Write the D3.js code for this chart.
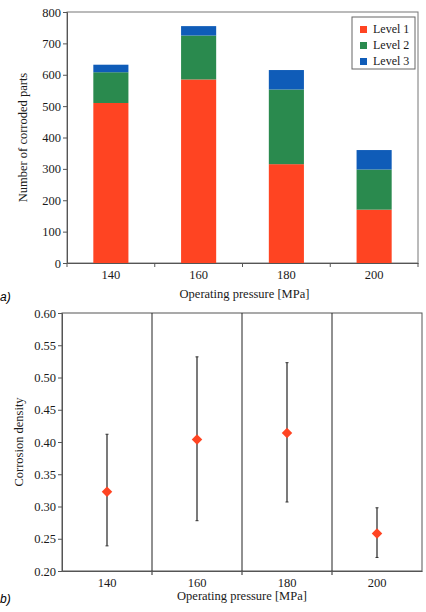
<!DOCTYPE html>
<html>
<head>
<meta charset="utf-8">
<script src="https://cdn.jsdelivr.net/npm/d3@7"></script>
<style>
  body { margin: 0; background: #fff; }
  .axis path, .axis line { stroke: #555; }
</style>
</head>
<body>
<div id="chart"></div>
<script>
// top chart: corroded parts per level
var pressures = ["140", "160", "180", "200"];
var level1 = [510, 585, 315, 170];
var level2 = [98, 140, 238, 128];
var level3 = [24, 30, 62, 62];
var levelNames = ["Level 1", "Level 2", "Level 3"];
var levelColors = ["#ff4422", "#2a8a4e", "#0f5cb8"];
var countTicks = [0, 100, 200, 300, 400, 500, 600, 700, 800];

// bottom chart: corrosion density with error bars
var density = [0.323, 0.404, 0.414, 0.258];
var densityLow = [0.239, 0.278, 0.307, 0.221];
var densityHigh = [0.412, 0.532, 0.523, 0.298];
var densityTicks = [0.20, 0.25, 0.30, 0.35, 0.40, 0.45, 0.50, 0.55, 0.60];

var width = 426, height = 612;

var svg = d3.select("#chart").append("svg")
    .attr("width", width)
    .attr("height", height);

// ---- chart a ----
var a = { left: 67, right: 418, top: 12, bottom: 263 };

var xa = d3.scaleBand().domain(pressures).range([a.left, a.right]).padding(0);
var ya = d3.scaleLinear().domain([0, 800]).range([a.bottom, a.top]);

svg.append("rect")
  .attr("x", a.left).attr("y", a.top)
  .attr("width", a.right - a.left).attr("height", a.bottom - a.top)
  .attr("fill", "none").attr("stroke", "#777");

var stackData = pressures.map(function(p, i) {
  return { p: p, l1: level1[i], l2: level2[i], l3: level3[i] };
});
var series = d3.stack().keys(["l1", "l2", "l3"])(stackData);

var barW = xa.bandwidth() * 0.4;
svg.selectAll(".layer")
  .data(series)
  .enter().append("g")
  .attr("fill", function(d, i) { return levelColors[i]; })
  .selectAll("rect")
  .data(function(d) { return d; })
  .enter().append("rect")
  .attr("x", function(d) { return xa(d.data.p) + (xa.bandwidth() - barW) / 2; })
  .attr("width", barW)
  .attr("y", function(d) { return ya(d[1]); })
  .attr("height", function(d) { return ya(d[0]) - ya(d[1]); });

svg.append("g")
  .attr("class", "axis")
  .attr("transform", "translate(" + a.left + ",0)")
  .call(d3.axisLeft(ya).tickValues(countTicks).tickSize(4).tickPadding(2));

var xaxA = svg.append("g")
  .attr("class", "axis")
  .attr("transform", "translate(0," + a.bottom + ")")
  .call(d3.axisBottom(xa).tickSize(0).tickPadding(7));
xaxA.selectAll(".boundary")
  .data(pressures.concat(["end"]))
  .enter().append("line")
  .attr("x1", function(d, i) { return a.left + i * xa.step(); })
  .attr("x2", function(d, i) { return a.left + i * xa.step(); })
  .attr("y1", 0).attr("y2", 4)
  .attr("stroke", "#555");

svg.append("text")
  .attr("transform", "translate(27," + (a.top + a.bottom) / 2 + ") rotate(-90)")
  .attr("text-anchor", "middle")
  .attr("font-size", 12.5)
  .text("Number of corroded parts");

svg.append("text")
  .attr("x", (a.left + a.right) / 2 + 2).attr("y", 298)
  .attr("text-anchor", "middle")
  .attr("font-size", 12.5)
  .text("Operating pressure [MPa]");

// legend
var legend = svg.append("g").attr("transform", "translate(352,17)");
legend.append("rect")
  .attr("width", 63).attr("height", 52)
  .attr("fill", "#fff").attr("stroke", "#666");
var item = legend.selectAll(".item")
  .data(levelNames)
  .enter().append("g")
  .attr("transform", function(d, i) { return "translate(8," + (9 + i * 16) + ")"; });
item.append("rect")
  .attr("width", 7).attr("height", 7)
  .attr("fill", function(d, i) { return levelColors[i]; });
item.append("text")
  .attr("x", 13).attr("y", 7)
  .attr("font-size", 12)
  .text(function(d) { return d; });

// ---- chart b ----
var b = { left: 62, right: 422, top: 313, bottom: 571 };

var xb = d3.scaleBand().domain(pressures).range([b.left, b.right]).padding(0);
var yb = d3.scaleLinear().domain([0.2, 0.6]).range([b.bottom, b.top]);

svg.append("rect")
  .attr("x", b.left).attr("y", b.top)
  .attr("width", b.right - b.left).attr("height", b.bottom - b.top)
  .attr("fill", "none").attr("stroke", "#555");

svg.selectAll(".sep")
  .data(pressures.slice(1))
  .enter().append("line")
  .attr("x1", function(d) { return xb(d); })
  .attr("x2", function(d) { return xb(d); })
  .attr("y1", b.top).attr("y2", b.bottom + 4)
  .attr("stroke", "#222");

svg.append("g")
  .attr("class", "axis")
  .attr("transform", "translate(" + b.left + ",0)")
  .call(d3.axisLeft(yb).tickValues(densityTicks).tickFormat(d3.format(".2f")).tickSize(4).tickPadding(2));

svg.append("g")
  .attr("class", "axis")
  .attr("transform", "translate(0," + b.bottom + ")")
  .call(d3.axisBottom(xb).tickSize(0).tickPadding(7));

var pts = svg.selectAll(".pt")
  .data(pressures)
  .enter().append("g")
  .attr("transform", function(d) { return "translate(" + (xb(d) + xb.bandwidth() / 2) + ",0)"; });

pts.append("line")
  .attr("y1", function(d, i) { return yb(densityLow[i]); })
  .attr("y2", function(d, i) { return yb(densityHigh[i]); })
  .attr("stroke", "#333").attr("stroke-width", 1.3);
pts.append("line")
  .attr("x1", -1.5).attr("x2", 1.5)
  .attr("y1", function(d, i) { return yb(densityHigh[i]); })
  .attr("y2", function(d, i) { return yb(densityHigh[i]); })
  .attr("stroke", "#333");
pts.append("line")
  .attr("x1", -1.5).attr("x2", 1.5)
  .attr("y1", function(d, i) { return yb(densityLow[i]); })
  .attr("y2", function(d, i) { return yb(densityLow[i]); })
  .attr("stroke", "#333");
pts.append("path")
  .attr("d", d3.symbol().type(d3.symbolDiamond2).size(70))
  .attr("transform", function(d, i) { return "translate(0," + yb(density[i]) + ")"; })
  .attr("fill", "#ff4422");

svg.append("text")
  .attr("transform", "translate(23," + (b.top + b.bottom) / 2 + ") rotate(-90)")
  .attr("text-anchor", "middle")
  .attr("font-size", 12.5)
  .text("Corrosion density");

svg.append("text")
  .attr("x", (b.left + b.right) / 2).attr("y", 600)
  .attr("text-anchor", "middle")
  .attr("font-size", 12.5)
  .text("Operating pressure [MPa]");

// all chart text in a Times-like face
svg.selectAll("text")
  .attr("font-family", "Liberation Serif")
  .attr("fill", "#1a1a1a");
svg.selectAll(".axis").attr("font-family", "Liberation Serif").attr("font-size", 12.5);

// panel letters
svg.append("text")
  .attr("x", 0).attr("y", 301)
  .attr("font-family", "Liberation Sans")
  .attr("font-style", "italic")
  .attr("font-size", 12)
  .text("a)");

svg.append("text")
  .attr("x", 0).attr("y", 603)
  .attr("font-family", "Liberation Sans")
  .attr("font-style", "italic")
  .attr("font-size", 12)
  .text("b)");
</script>
</body>
</html>
